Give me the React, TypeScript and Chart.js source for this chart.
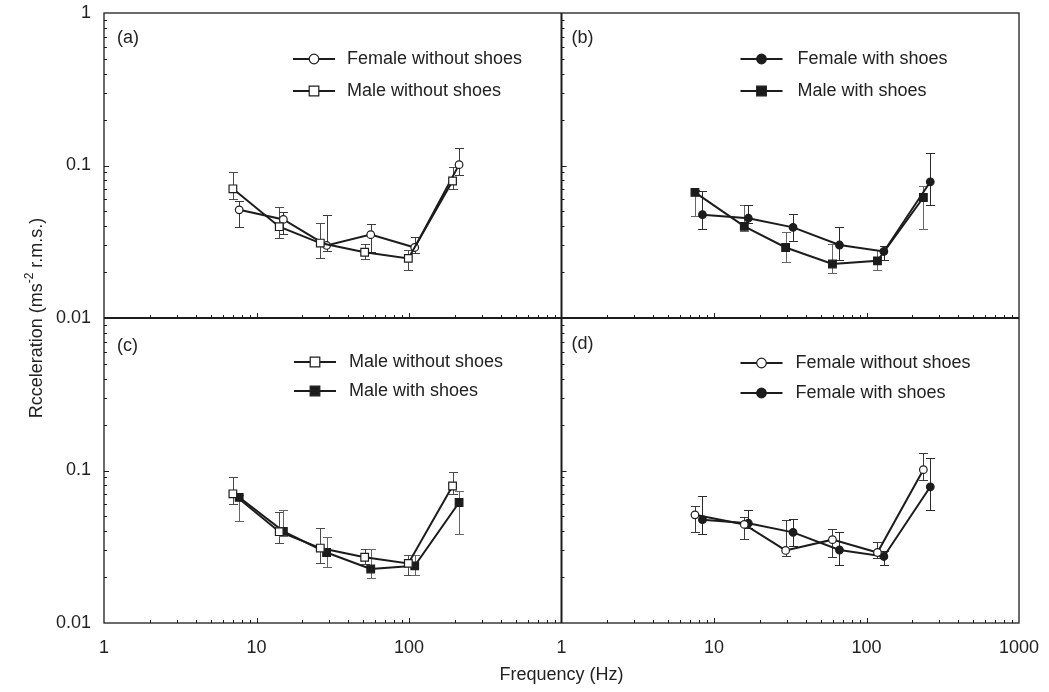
import React, { useEffect, useRef } from 'react';
import { Chart, registerables } from 'chart.js';

Chart.register(...registerables);

// ---------------- data ----------------
// frequency positions (Hz) of the two series in each panel (offset for clarity)
const freqLeftLow = [7.0, 14.1, 26.2, 51.2, 99, 193];
const freqLeftHigh = [7.7, 15.0, 28.8, 56.1, 109, 213];
const freqRightLow = [7.5, 15.8, 29.5, 59.8, 118, 236];
const freqRightHigh = [8.4, 16.8, 33.0, 66.5, 130, 262];

const femaleWithout = [0.0512, 0.0443, 0.0299, 0.0352, 0.029, 0.1013];
const femaleWithoutHi = [0.0584, 0.0498, 0.0471, 0.0413, 0.0339, 0.131];
const femaleWithoutLo = [0.0398, 0.0354, 0.0275, 0.027, 0.0267, 0.0862];

const maleWithout = [0.0703, 0.0397, 0.031, 0.027, 0.0246, 0.0791];
const maleWithoutHi = [0.09, 0.0536, 0.042, 0.0306, 0.0279, 0.098];
const maleWithoutLo = [0.06, 0.0333, 0.0249, 0.0245, 0.0206, 0.0698];

const femaleWith = [0.0476, 0.0451, 0.0393, 0.0301, 0.0273, 0.0782];
const femaleWithHi = [0.0677, 0.0548, 0.048, 0.0394, 0.0295, 0.1204];
const femaleWithLo = [0.0383, 0.0418, 0.0318, 0.0241, 0.0241, 0.0551];

const maleWith = [0.0667, 0.0399, 0.029, 0.0226, 0.0237, 0.0617];
const maleWithHi = [0.069, 0.0551, 0.0369, 0.0307, 0.0281, 0.0734];
const maleWithLo = [0.0469, 0.037, 0.0234, 0.0196, 0.0206, 0.0383];

const xTickValuesLeft = [1, 10, 100];
const xTickLabelsLeft = ['1', '10', '100'];
const xTickValuesRight = [1, 10, 100, 1000];
const xTickLabelsRight = ['1', '10', '100', '1000'];
const yTickValuesTop = [1, 0.1, 0.01];
const yTickLabelsTop = ['1', '0.1', '0.01'];
const yTickValuesBottom = [0.1, 0.01];
const yTickLabelsBottom = ['0.1', '0.01'];

const xTitle = 'Frequency (Hz)';
const yTitleParts = ['Rcceleration (ms', '-2', ' r.m.s.)'];

// ---------------- styles ----------------
const FONT = "'Liberation Sans', Arial, Helvetica, sans-serif";
const INK = '#1c1c1c';
const TEXT = '#222222';

type Series = {
  label: string;
  values: number[];
  hi: number[];
  lo: number[];
  shape: 'circle' | 'rect';
  filled: boolean;
  errColor: string;
};

const FWO: Series = { label: 'Female without shoes', values: femaleWithout, hi: femaleWithoutHi, lo: femaleWithoutLo, shape: 'circle', filled: false, errColor: '#3a3a3a' };
const MWO: Series = { label: 'Male without shoes', values: maleWithout, hi: maleWithoutHi, lo: maleWithoutLo, shape: 'rect', filled: false, errColor: '#4a4a4a' };
const FW: Series = { label: 'Female with shoes', values: femaleWith, hi: femaleWithHi, lo: femaleWithLo, shape: 'circle', filled: true, errColor: '#2a2a2a' };
const MW: Series = { label: 'Male with shoes', values: maleWith, hi: maleWithHi, lo: maleWithLo, shape: 'rect', filled: true, errColor: '#666666' };

type Panel = {
  tag: string;
  xAxis: string;
  yAxis: string;
  series: [Series, number[]][];
  legend: Series[];
  tagPos: [number, number];
  legendLineX: number;
  legendTextX: number;
  legendRows: number[];
};

const panels: Panel[] = [
  { tag: '(a)', xAxis: 'x1', yAxis: 'y1', series: [[MWO, freqLeftLow], [FWO, freqLeftHigh]], legend: [FWO, MWO], tagPos: [13, 25], legendLineX: 189, legendTextX: 243, legendRows: [46, 78] },
  { tag: '(b)', xAxis: 'x2', yAxis: 'y1', series: [[MW, freqRightLow], [FW, freqRightHigh]], legend: [FW, MW], tagPos: [10, 25], legendLineX: 179, legendTextX: 236, legendRows: [46, 78] },
  { tag: '(c)', xAxis: 'x1', yAxis: 'y2', series: [[MWO, freqLeftLow], [MW, freqLeftHigh]], legend: [MWO, MW], tagPos: [13, 28], legendLineX: 190, legendTextX: 245, legendRows: [44, 73] },
  { tag: '(d)', xAxis: 'x2', yAxis: 'y2', series: [[FWO, freqRightLow], [FW, freqRightHigh]], legend: [FWO, FW], tagPos: [10, 26], legendLineX: 179, legendTextX: 234, legendRows: [45, 75] },
];

function drawMarker(ctx: CanvasRenderingContext2D, s: Series, x: number, y: number, big: boolean) {
  ctx.save();
  ctx.lineWidth = 1.2;
  ctx.strokeStyle = INK;
  ctx.fillStyle = s.filled ? INK : '#ffffff';
  ctx.beginPath();
  if (s.shape === 'circle') {
    ctx.arc(x, y, big ? 4.8 : 3.8, 0, Math.PI * 2);
  } else {
    const h = big ? 4.8 : 3.8;
    ctx.rect(x - h, y - h, 2 * h, 2 * h);
  }
  ctx.fill();
  ctx.stroke();
  ctx.restore();
}

function logSteps(min: number, max: number) {
  const out: { v: number; major: boolean }[] = [];
  for (let d = min; d < max * 0.999; d *= 10) {
    for (let m = 1; m < 10; m++) {
      const v = d * m;
      if (v > min * 1.0001 && v < max * 0.9999) out.push({ v, major: m === 1 });
    }
  }
  return out;
}

const framePlugin = {
  id: 'framePlugin',
  beforeDatasetsDraw(chart: any) {
    const ctx: CanvasRenderingContext2D = chart.ctx;
    chart.data.datasets.forEach((ds: any) => {
      const xs = chart.scales[ds.xAxisID];
      const ys = chart.scales[ds.yAxisID];
      ctx.save();
      ctx.strokeStyle = ds.errColor;
      ctx.lineWidth = 1;
      ds.data.forEach((p: any, i: number) => {
        const px = Math.round(xs.getPixelForValue(p.x)) + 0.5;
        const yh = Math.round(ys.getPixelForValue(ds.hi[i])) + 0.5;
        const yl = Math.round(ys.getPixelForValue(ds.lo[i])) + 0.5;
        ctx.beginPath();
        ctx.moveTo(px, yh);
        ctx.lineTo(px, yl);
        ctx.moveTo(px - 4.5, yh);
        ctx.lineTo(px + 4.5, yh);
        ctx.moveTo(px - 4.5, yl);
        ctx.lineTo(px + 4.5, yl);
        ctx.stroke();
      });
      ctx.restore();
    });
  },
  afterDraw(chart: any) {
    const ctx: CanvasRenderingContext2D = chart.ctx;
    const { x1, x2, y1, y2 } = chart.scales;
    ctx.save();
    // tick marks
    ctx.strokeStyle = INK;
    ctx.lineWidth = 1;
    [y1, y2].forEach((ys: any) => {
      logSteps(ys.min, ys.max).forEach(({ v, major }) => {
        const py = Math.round(ys.getPixelForValue(v)) + 0.5;
        [x1.left, x2.left].forEach((lx: number) => {
          ctx.beginPath();
          ctx.moveTo(lx, py);
          ctx.lineTo(lx + (major ? 5 : 3), py);
          ctx.stroke();
        });
      });
    });
    [x1, x2].forEach((xs: any) => {
      logSteps(xs.min, xs.max).forEach(({ v, major }) => {
        const px = Math.round(xs.getPixelForValue(v)) + 0.5;
        [y1.bottom, y2.bottom].forEach((by: number) => {
          ctx.beginPath();
          ctx.moveTo(px, by);
          ctx.lineTo(px, by - (major ? 5 : 3));
          ctx.stroke();
        });
      });
    });
    // frame
    ctx.lineWidth = 1.3;
    ctx.strokeStyle = INK;
    ctx.strokeRect(x1.left, y1.top, x2.right - x1.left, y2.bottom - y1.top);
    ctx.lineWidth = 2;
    ctx.beginPath();
    ctx.moveTo(x1.left, y1.bottom);
    ctx.lineTo(x2.right, y1.bottom);
    ctx.moveTo(x2.left, y1.top);
    ctx.lineTo(x2.left, y2.bottom);
    ctx.stroke();

    // panel tags and legends
    ctx.fillStyle = TEXT;
    ctx.textBaseline = 'middle';
    ctx.textAlign = 'left';
    ctx.font = `18px ${FONT}`;
    panels.forEach((p) => {
      const left = chart.scales[p.xAxis].left;
      const top = chart.scales[p.yAxis].top;
      ctx.fillStyle = TEXT;
      ctx.fillText(p.tag, left + p.tagPos[0], top + p.tagPos[1]);
      p.legend.forEach((s, k) => {
        const y = top + p.legendRows[k];
        const lx = left + p.legendLineX;
        ctx.strokeStyle = INK;
        ctx.lineWidth = 2;
        ctx.beginPath();
        ctx.moveTo(lx, y);
        ctx.lineTo(lx + 42, y);
        ctx.stroke();
        drawMarker(ctx, s, lx + 21, y, true);
        ctx.fillStyle = TEXT;
        ctx.fillText(s.label, left + p.legendTextX, y);
      });
    });

    // axis titles
    ctx.fillStyle = TEXT;
    ctx.textAlign = 'center';
    ctx.font = `18px ${FONT}`;
    ctx.fillText(xTitle, (x1.left + x2.right) / 2, 675);

    ctx.save();
    ctx.translate(37, (y1.top + y2.bottom) / 2);
    ctx.rotate(-Math.PI / 2);
    ctx.textAlign = 'left';
    const big = `18px ${FONT}`;
    const small = `12px ${FONT}`;
    ctx.font = big;
    const w0 = ctx.measureText(yTitleParts[0]).width;
    const w2 = ctx.measureText(yTitleParts[2]).width;
    ctx.font = small;
    const w1 = ctx.measureText(yTitleParts[1]).width;
    let cx = -(w0 + w1 + w2) / 2;
    ctx.font = big;
    ctx.fillText(yTitleParts[0], cx, 0);
    cx += w0;
    ctx.font = small;
    ctx.fillText(yTitleParts[1], cx, -7);
    cx += w1;
    ctx.font = big;
    ctx.fillText(yTitleParts[2], cx, 0);
    ctx.restore();

    ctx.restore();
  },
};

function tickOpts(labels: string[], padding: number) {
  return {
    autoSkip: false,
    maxRotation: 0,
    minRotation: 0,
    padding,
    color: TEXT,
    font: { family: FONT, size: 18 },
    callback: (_v: any, i: number) => labels[i],
  };
}

function fixY(s: any) {
  s.width = 104;
  s.paddingTop = 0;
  s.paddingBottom = 0;
  s.paddingLeft = 0;
  s.paddingRight = 0;
}

function fixX(s: any) {
  s.height = 69;
  s.paddingTop = 0;
  s.paddingBottom = 0;
  s.paddingLeft = 0;
  s.paddingRight = 0;
}

export default function App() {
  const ref = useRef<HTMLCanvasElement>(null);

  useEffect(() => {
    const canvas = ref.current;
    if (!canvas) return;

    const datasets: any[] = [];
    panels.forEach((p) => {
      p.series.forEach(([s, freqs]) => {
        datasets.push({
          label: s.label,
          data: freqs.map((f, i) => ({ x: f, y: s.values[i] })),
          hi: s.hi,
          lo: s.lo,
          errColor: s.errColor,
          xAxisID: p.xAxis,
          yAxisID: p.yAxis,
          borderColor: INK,
          borderWidth: 2,
          showLine: true,
          tension: 0,
          fill: false,
          pointStyle: s.shape,
          pointRadius: s.shape === 'rect' ? 5.4 : 3.8,
          pointHoverRadius: s.shape === 'rect' ? 5.4 : 3.8,
          pointBackgroundColor: s.filled ? INK : '#ffffff',
          pointBorderColor: INK,
          pointBorderWidth: 1.2,
        });
      });
    });

    const noGrid = { display: false, drawTicks: false };
    const noBorder = { display: false };

    const chart = new Chart(canvas, {
      type: 'scatter',
      data: { datasets },
      options: {
        animation: false,
        responsive: false,
        devicePixelRatio: 1,
        events: [],
        layout: { padding: { left: 0, right: 30, top: 13, bottom: 0 } },
        plugins: { legend: { display: false }, tooltip: { enabled: false } },
        scales: {
          y1: {
            type: 'logarithmic', position: 'left', stack: 'v', stackWeight: 1, weight: 1,
            min: 0.01, max: 1, grid: noGrid, border: noBorder,
            ticks: tickOpts(yTickLabelsTop, 13),
            afterBuildTicks: (s: any) => { s.ticks = yTickValuesTop.map((v) => ({ value: v })); },
            afterFit: fixY,
          },
          y2: {
            type: 'logarithmic', position: 'left', stack: 'v', stackWeight: 1, weight: 0,
            min: 0.01, max: 1, grid: noGrid, border: noBorder,
            ticks: tickOpts(yTickLabelsBottom, 13),
            afterBuildTicks: (s: any) => { s.ticks = yTickValuesBottom.map((v) => ({ value: v })); },
            afterFit: fixY,
          },
          x1: {
            type: 'logarithmic', position: 'bottom', stack: 'h', stackWeight: 1,
            min: 1, max: 1000, grid: noGrid, border: noBorder,
            ticks: tickOpts(xTickLabelsLeft, 14),
            afterBuildTicks: (s: any) => { s.ticks = xTickValuesLeft.map((v) => ({ value: v })); },
            afterFit: fixX,
          },
          x2: {
            type: 'logarithmic', position: 'bottom', stack: 'h', stackWeight: 1,
            min: 1, max: 1000, grid: noGrid, border: noBorder,
            ticks: tickOpts(xTickLabelsRight, 14),
            afterBuildTicks: (s: any) => { s.ticks = xTickValuesRight.map((v) => ({ value: v })); },
            afterFit: fixX,
          },
        } as any,
      },
      plugins: [framePlugin],
    } as any);

    return () => chart.destroy();
  }, []);

  return (
    <canvas
      ref={ref}
      width={1049}
      height={692}
      style={{ position: 'absolute', left: 0, top: 0, width: 1049, height: 692, background: '#fff' }}
    />
  );
}
